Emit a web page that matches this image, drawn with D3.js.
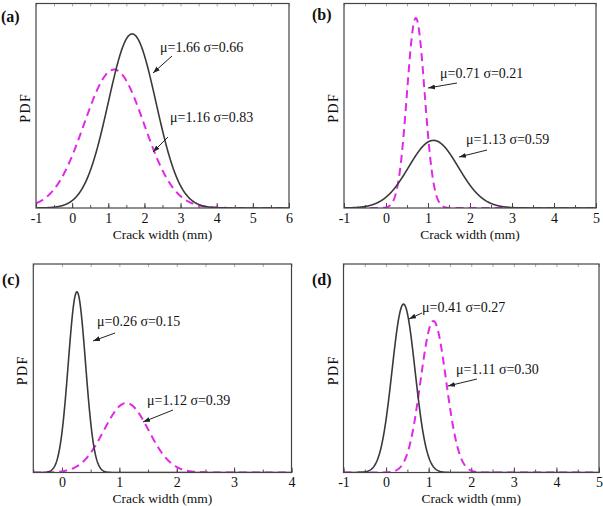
<!DOCTYPE html>
<html><head><meta charset="utf-8">
<script src="https://cdn.jsdelivr.net/npm/d3@7"></script>
<style>
body{margin:0;background:#fff;}
svg text{font-family:'Liberation Serif','DejaVu Serif','Times New Roman',serif;}
</style></head>
<body>
<svg id="chart" width="603" height="506"></svg>
<script>
// ---- data ----
const panelLabels = ["(a)", "(b)", "(c)", "(d)"];
const xDomains = [[-1, 6], [-1, 5], [-0.5, 4], [-1, 5]];
const xTickValues = [
  [-1, 0, 1, 2, 3, 4, 5, 6],
  [-1, 0, 1, 2, 3, 4, 5],
  [0, 1, 2, 3, 4],
  [-1, 0, 1, 2, 3, 4, 5]
];
const yMax = [0.71, 2.045, 3.07, 1.83];
// black solid series (mu, sigma) per panel
const solidMu = [1.66, 1.13, 0.26, 0.41];
const solidSigma = [0.66, 0.59, 0.15, 0.27];
// magenta dashed series (mu, sigma) per panel
const dashMu = [1.16, 0.71, 1.12, 1.11];
const dashSigma = [0.83, 0.21, 0.39, 0.30];
const xTitle = "Crack width (mm)";
const yTitle = "PDF";

// ---- layout ----
const FONT = "'Liberation Serif','DejaVu Serif','Times New Roman',serif";
const boxes = [
  {l: 36, r: 289, t: 3.5, b: 208},
  {l: 344, r: 596, t: 3.5, b: 208},
  {l: 33.3, r: 291.5, t: 264, b: 472.5},
  {l: 343.5, r: 599, t: 264, b: 472.5}
];
const titleGap = [31, 31, 30, 30];
const labelPos = [[1, 22], [312, 20], [2, 285], [312, 285]];
// annotation layout: [textX, textY, arrowX1, arrowY1, arrowX2, arrowY2] for solid & dashed
const annSolid = [
  [160, 52, 172, 56, 153, 73],
  [466, 144, 487, 150, 459, 157],
  [97, 326, 115, 333, 93, 341],
  [422, 312, 422, 313, 409, 319]
];
const annDash = [
  [170, 122, 168, 137, 153, 152],
  [440, 78, 457, 83, 428, 88],
  [147, 405, 173, 410, 143, 422],
  [456, 374, 477, 379, 448, 386]
];

const svg = d3.select("#chart");
const defs = svg.append("defs");
defs.append("marker").attr("id", "arr").attr("viewBox", "0 0 10 10")
  .attr("refX", 10).attr("refY", 5).attr("markerWidth", 7).attr("markerHeight", 7)
  .attr("markerUnits", "userSpaceOnUse").attr("orient", "auto")
  .append("path").attr("d", "M0,1.5 L10,5 L0,8.5 Z").attr("fill", "#222");

function normalPdf(x, mu, s) {
  return Math.exp(-0.5 * ((x - mu) / s) ** 2) / (s * Math.sqrt(2 * Math.PI));
}

boxes.forEach((bx, i) => {
  const g = svg.append("g");
  const x = d3.scaleLinear().domain(xDomains[i]).range([bx.l, bx.r]);
  const y = d3.scaleLinear().domain([0, yMax[i]]).range([bx.b, bx.t]);

  const clipId = "clip" + i;
  defs.append("clipPath").attr("id", clipId).append("rect")
    .attr("x", bx.l).attr("y", bx.t).attr("width", bx.r - bx.l).attr("height", bx.b - bx.t);

  const xs = d3.range(0, 601).map(k => xDomains[i][0] + (xDomains[i][1] - xDomains[i][0]) * k / 600);
  const line = d3.line().x(d => x(d[0])).y(d => y(d[1]));

  const minor = d3.range(Math.ceil(xDomains[i][0] * 2) / 2, xDomains[i][1] + 0.001, 0.5);
  const axB = d3.axisBottom(x).tickValues(minor).tickSize(-3).tickFormat("");
  g.append("g").attr("transform", `translate(0,${bx.b})`).call(axB)
    .call(s => s.select(".domain").remove())
    .call(s => s.selectAll("line").attr("stroke", "#555"));
  const axBM = d3.axisBottom(x).tickValues(xTickValues[i]).tickSize(-5).tickPadding(5)
    .tickFormat(d => (d < 0 ? "-" + Math.abs(d) : String(d)));
  g.append("g").attr("transform", `translate(0,${bx.b})`).call(axBM)
    .attr("font-family", FONT)
    .call(s => s.select(".domain").remove())
    .call(s => s.selectAll("line").attr("stroke", "#444"))
    .call(s => s.selectAll("text").attr("font-size", 14).attr("fill", "#111")
      .attr("font-family", FONT));
  const axT = d3.axisTop(x).tickValues(minor).tickSize(-3).tickFormat("");
  g.append("g").attr("transform", `translate(0,${bx.t})`).call(axT)
    .call(s => s.select(".domain").remove())
    .call(s => s.selectAll("line").attr("stroke", "#aaa"));

  const cg = g.append("g").attr("clip-path", `url(#${clipId})`);
  cg.append("path").datum(xs.map(v => [v, normalPdf(v, dashMu[i], dashSigma[i])]))
    .attr("d", line).attr("fill", "none").attr("stroke", "#e029e6")
    .attr("stroke-width", 2).attr("stroke-dasharray", "8,5");
  cg.append("path").datum(xs.map(v => [v, normalPdf(v, solidMu[i], solidSigma[i])]))
    .attr("d", line).attr("fill", "none").attr("stroke", "#3a3a3a")
    .attr("stroke-width", 1.6);

  g.append("rect").attr("x", bx.l).attr("y", bx.t).attr("width", bx.r - bx.l).attr("height", bx.b - bx.t)
    .attr("fill", "none").attr("stroke", "#444").attr("stroke-width", 1.2);

  g.append("text").attr("x", (bx.l + bx.r) / 2).attr("y", bx.b + titleGap[i])
    .attr("text-anchor", "middle").attr("font-size", 13.5).attr("fill", "#111")
    .attr("font-family", FONT).text(xTitle);
  g.append("text").attr("transform", `translate(${bx.l - 6},${(bx.t + bx.b) / 2 + 2}) rotate(-90)`)
    .attr("text-anchor", "middle").attr("font-size", 14).attr("letter-spacing", 1.5)
    .attr("font-family", FONT).attr("fill", "#111").text(yTitle);
  g.append("text").attr("x", labelPos[i][0]).attr("y", labelPos[i][1])
    .attr("font-size", 16).attr("font-weight", "bold").attr("fill", "#111")
    .attr("font-family", FONT).text(panelLabels[i]);

  [[annSolid[i], solidMu[i], solidSigma[i]], [annDash[i], dashMu[i], dashSigma[i]]].forEach(([a, m, s]) => {
    g.append("text").attr("x", a[0]).attr("y", a[1]).attr("font-size", 14).attr("fill", "#111")
      .attr("font-family", FONT).attr("xml:space", "preserve")
      .text(`\u03bc=${m.toFixed(2)} \u03c3=${s.toFixed(2)}`);
    g.append("line").attr("x1", a[2]).attr("y1", a[3]).attr("x2", a[4]).attr("y2", a[5])
      .attr("stroke", "#222").attr("stroke-width", 1).attr("marker-end", "url(#arr)");
  });
});
</script>
</body></html>
